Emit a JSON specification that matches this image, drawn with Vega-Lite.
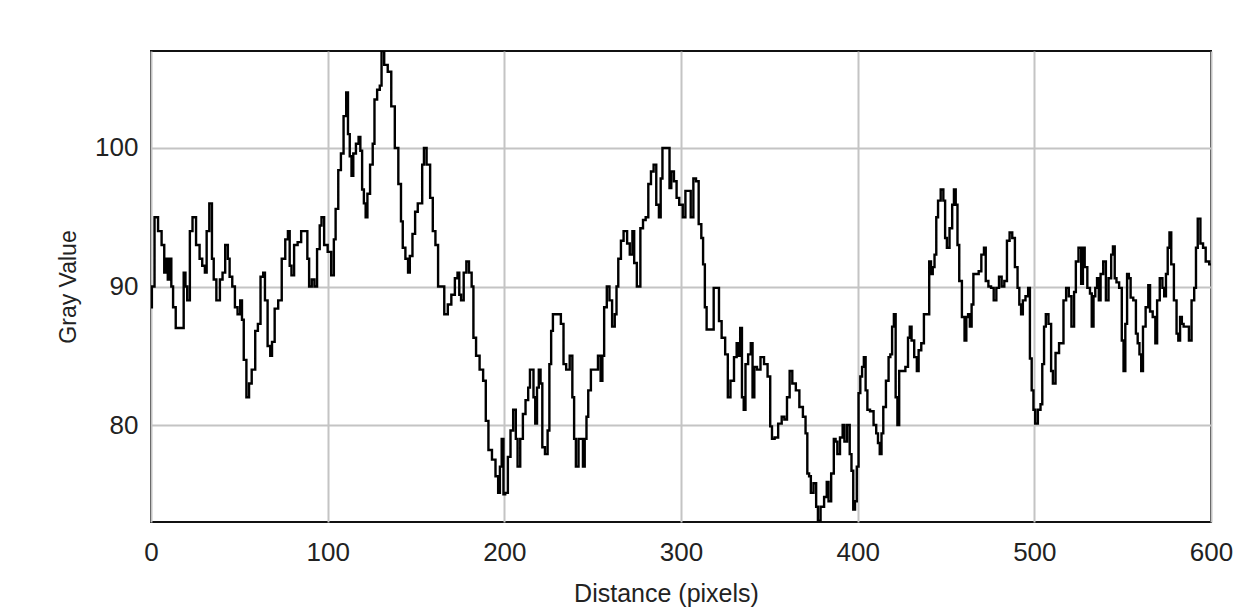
{
  "$schema": "https://vega.github.io/schema/vega-lite/v6.json",
  "autosize": {"type": "none"},
  "width": 1060,
  "height": 471,
  "padding": {"left": 151, "top": 51, "right": 45, "bottom": 88},
  "background": "white",
  "config": {
    "view": {"stroke": "#111111", "strokeWidth": 2},
    "font": "Liberation Sans"
  },
  "data": {"values": [
    {"d":0,"v":88.5},{"d":1,"v":90},{"d":3,"v":95},{"d":5,"v":94},{"d":7,"v":93},{"d":8,"v":91},{"d":9,"v":92},{"d":10,"v":90.5},{"d":11,"v":92},{"d":12,"v":90},{"d":13,"v":88.5},{"d":15,"v":87},{"d":18,"v":87},{"d":19,"v":91},{"d":20,"v":90},{"d":21,"v":89},{"d":23,"v":94},{"d":24,"v":95},{"d":27,"v":93},{"d":28,"v":92},{"d":30,"v":91.5},{"d":31,"v":91},{"d":32,"v":94},{"d":34,"v":96},{"d":35,"v":92},{"d":36,"v":90.5},{"d":38,"v":89},{"d":40,"v":90.5},{"d":41,"v":91},{"d":43,"v":93},{"d":44,"v":92},{"d":45,"v":90.7},{"d":47,"v":90},{"d":48,"v":88.5},{"d":50,"v":88},{"d":51,"v":89},{"d":52,"v":87.6},{"d":53,"v":84.7},{"d":55,"v":82},{"d":56,"v":83},{"d":58,"v":84},{"d":60,"v":86.8},{"d":61,"v":87.3},{"d":63,"v":90.7},{"d":64,"v":91},{"d":65,"v":89},{"d":67,"v":85.7},{"d":68,"v":85},
    {"d":69,"v":86},{"d":71,"v":88.4},{"d":73,"v":89},{"d":75,"v":92},{"d":77,"v":93.4},{"d":78,"v":94},{"d":79,"v":91.5},{"d":80,"v":90.8},{"d":82,"v":93},{"d":84,"v":93.2},{"d":86,"v":94},{"d":88,"v":94},{"d":89,"v":92},{"d":90,"v":90},{"d":92,"v":90.5},{"d":93,"v":90},{"d":95,"v":92.7},{"d":96,"v":94.4},{"d":97,"v":95},{"d":99,"v":93},{"d":101,"v":92.5},{"d":103,"v":90.8},{"d":104,"v":93.4},{"d":105,"v":95.6},{"d":107,"v":98.4},{"d":108,"v":99.6},{"d":110,"v":102.3},{"d":111,"v":104},{"d":112,"v":101},{"d":113,"v":99.4},{"d":114,"v":98},{"d":115,"v":99.6},{"d":117,"v":100.3},{"d":118,"v":100.8},{"d":119,"v":99.8},{"d":120,"v":97},{"d":121,"v":96},{"d":122,"v":95},{"d":123,"v":96.7},{"d":125,"v":98.8},{"d":126,"v":100.3},{"d":127,"v":103.5},{"d":129,"v":104.2},{"d":130,"v":104.5},{"d":131,"v":107},{"d":133,"v":106},{"d":135,"v":105.5},
    {"d":137,"v":103},{"d":139,"v":100},{"d":141,"v":97.4},{"d":142,"v":94.7},{"d":143,"v":92.8},{"d":145,"v":92},{"d":146,"v":91},{"d":147,"v":92.2},{"d":149,"v":93.8},{"d":150,"v":95.4},{"d":152,"v":96},{"d":153,"v":96},{"d":154,"v":98.8},{"d":155,"v":100},{"d":157,"v":98.8},{"d":159,"v":96.4},{"d":160,"v":94},{"d":162,"v":93},{"d":163,"v":90},{"d":165,"v":90},{"d":167,"v":88},{"d":169,"v":88.7},{"d":171,"v":89.4},{"d":173,"v":90.6},{"d":174,"v":91},{"d":175,"v":89.4},{"d":176,"v":89},{"d":178,"v":91},{"d":179,"v":91.8},{"d":181,"v":91},{"d":182,"v":90},{"d":183,"v":86.3},{"d":185,"v":85},{"d":187,"v":84},{"d":189,"v":83.2},{"d":190,"v":80.3},{"d":192,"v":78.2},{"d":194,"v":77.5},{"d":196,"v":76.3},{"d":197,"v":75.1},{"d":198,"v":77},{"d":199,"v":79},{"d":200,"v":75},
    {"d":201,"v":75.1},{"d":203,"v":77.7},{"d":204,"v":79.6},{"d":206,"v":81.1},{"d":207,"v":79},{"d":208,"v":77},{"d":210,"v":79},{"d":211,"v":80.8},{"d":213,"v":81.8},{"d":214,"v":82.7},{"d":215,"v":84},{"d":216,"v":84},{"d":217,"v":82},{"d":218,"v":80.1},{"d":219,"v":82.7},{"d":220,"v":84},{"d":221,"v":83},{"d":222,"v":78.4},{"d":224,"v":77.9},{"d":225,"v":79.6},{"d":226,"v":84.4},{"d":227,"v":86.8},{"d":228,"v":88},{"d":231,"v":88},{"d":233,"v":87.3},{"d":234,"v":84.4},{"d":236,"v":84},{"d":238,"v":85},{"d":239,"v":82},{"d":240,"v":79},{"d":241,"v":77},{"d":243,"v":79},{"d":244,"v":79},{"d":245,"v":77},{"d":246,"v":79},{"d":247,"v":80.6},{"d":248,"v":82.5},{"d":250,"v":84},{"d":252,"v":84},{"d":254,"v":85},{"d":255,"v":83.2},{"d":256,"v":85},{"d":257,"v":88.5},{"d":259,"v":90},{"d":260,"v":89},{"d":262,"v":87.1},{"d":263,"v":88},{"d":264,"v":90},{"d":265,"v":92},{"d":267,"v":93.3},{"d":268,"v":94},
    {"d":269,"v":94},{"d":270,"v":93.1},{"d":272,"v":92.3},{"d":273,"v":94},{"d":274,"v":91.7},{"d":276,"v":90},{"d":278,"v":94.2},{"d":279,"v":94.8},{"d":281,"v":95},{"d":282,"v":97.4},{"d":284,"v":98.3},{"d":285,"v":98.8},{"d":287,"v":95.9},{"d":288,"v":95},{"d":289,"v":97.8},{"d":290,"v":100},{"d":293,"v":100},{"d":294,"v":97.1},{"d":295,"v":98.3},{"d":297,"v":97.6},{"d":298,"v":96.4},{"d":300,"v":95.9},{"d":302,"v":95},{"d":303,"v":96.9},{"d":305,"v":96.9},{"d":306,"v":95},{"d":308,"v":97.8},{"d":309,"v":97.6},{"d":311,"v":94.5},{"d":312,"v":93.5},{"d":313,"v":91.6},{"d":314,"v":88.5},{"d":315,"v":86.9},{"d":318,"v":86.9},{"d":319,"v":89.9},{"d":321,"v":89.9},{"d":322,"v":87.5},{"d":324,"v":86.3},{"d":326,"v":85.1},{"d":327,"v":82},{"d":329,"v":83.2},{"d":331,"v":84.9},{"d":332,"v":85.9},{"d":333,"v":85},{"d":334,"v":87},{"d":335,"v":82},{"d":336,"v":81.1},
    {"d":337,"v":84.4},{"d":339,"v":85.1},{"d":340,"v":85.9},{"d":341,"v":82},{"d":342,"v":84.2},{"d":344,"v":84},{"d":346,"v":84.9},{"d":348,"v":84.4},{"d":350,"v":83.5},{"d":351,"v":79.9},{"d":352,"v":79},{"d":354,"v":79.1},{"d":356,"v":80.1},{"d":358,"v":80.6},{"d":359,"v":80.4},{"d":361,"v":82},{"d":362,"v":83.9},{"d":364,"v":83},{"d":366,"v":82.5},{"d":368,"v":81.3},{"d":370,"v":80.6},{"d":371,"v":79.4},{"d":372,"v":76.5},{"d":373,"v":76.3},{"d":374,"v":75.1},{"d":376,"v":75.8},{"d":377,"v":74.1},{"d":378,"v":73.1},{"d":380,"v":74.1},{"d":382,"v":74.8},{"d":383,"v":75.9},{"d":384,"v":74.5},{"d":386,"v":76.5},{"d":387,"v":79},{"d":388,"v":78.8},{"d":389,"v":77.9},{"d":391,"v":79.1},{"d":392,"v":80},{"d":393,"v":78.8},{"d":395,"v":80},{"d":396,"v":77.9},{"d":397,"v":76.7},{"d":398,"v":73.9},{"d":399,"v":74.5},{"d":400,"v":77},
    {"d":401,"v":82.3},{"d":402,"v":83.5},{"d":403,"v":84.2},{"d":404,"v":84.9},{"d":405,"v":82.5},{"d":406,"v":81.1},{"d":408,"v":81},{"d":410,"v":80},{"d":411,"v":79.4},{"d":412,"v":78.7},{"d":413,"v":77.9},{"d":414,"v":79.4},{"d":415,"v":81.3},{"d":417,"v":83.2},{"d":418,"v":84.9},{"d":419,"v":85.1},{"d":420,"v":87.1},{"d":421,"v":88},{"d":422,"v":82},{"d":423,"v":80},{"d":424,"v":83.9},{"d":426,"v":83.9},{"d":428,"v":84.2},{"d":429,"v":86.3},{"d":430,"v":87.1},{"d":431,"v":86.1},{"d":433,"v":84.9},{"d":434,"v":83.9},{"d":435,"v":85.4},{"d":437,"v":85.9},{"d":438,"v":88},{"d":440,"v":88},{"d":441,"v":91.8},{"d":442,"v":90.9},{"d":443,"v":91.4},{"d":444,"v":92.3},{"d":445,"v":95},{"d":446,"v":96.2},{"d":448,"v":97},{"d":449,"v":96.2},{"d":450,"v":93.5},{"d":451,"v":92.8},{"d":453,"v":94.2},{"d":454,"v":95.9},{"d":455,"v":97},{"d":456,"v":95.9},{"d":457,"v":93},{"d":458,"v":90.4},{"d":460,"v":87.8},{"d":461,"v":86.1},{"d":462,"v":87.8},{"d":463,"v":88},{"d":464,"v":87.1},{"d":465,"v":88.7},{"d":466,"v":90.9},{"d":468,"v":90.9},
    {"d":469,"v":91.1},{"d":471,"v":92.3},{"d":472,"v":92.8},{"d":473,"v":90.4},{"d":475,"v":90},{"d":476,"v":89.9},{"d":478,"v":89},{"d":479,"v":89.9},{"d":481,"v":90.7},{"d":482,"v":90},{"d":484,"v":90.4},{"d":485,"v":93.3},{"d":487,"v":93.9},{"d":488,"v":93.5},{"d":490,"v":91.4},{"d":491,"v":89.9},{"d":492,"v":88.7},{"d":493,"v":88},{"d":494,"v":89},{"d":496,"v":89.3},{"d":497,"v":89.9},{"d":498,"v":84.8},{"d":499,"v":82.5},{"d":500,"v":81.1},{"d":501,"v":80.1},{"d":503,"v":81.1},{"d":504,"v":81.5},{"d":505,"v":84.4},{"d":506,"v":87.1},{"d":507,"v":88},{"d":509,"v":87.3},{"d":510,"v":83.9},{"d":511,"v":83},{"d":513,"v":85.2},{"d":515,"v":85.9},{"d":516,"v":85.9},{"d":517,"v":89},{"d":519,"v":89.9},{"d":520,"v":89.3},{"d":522,"v":87.1},{"d":523,"v":89.6},{"d":524,"v":91.8},{"d":526,"v":92.8},{"d":527,"v":90.2},{"d":528,"v":92.8},{"d":529,"v":91.4},{"d":531,"v":89.9},{"d":532,"v":89.5},{"d":533,"v":87.1},{"d":534,"v":89.3},{"d":535,"v":89.9},{"d":536,"v":90.6},
    {"d":537,"v":89},{"d":538,"v":90.9},{"d":540,"v":91.8},{"d":541,"v":89},{"d":543,"v":90.6},{"d":544,"v":92.3},{"d":545,"v":92.9},{"d":546,"v":90.6},{"d":547,"v":90.3},{"d":549,"v":89.9},{"d":550,"v":86.1},{"d":551,"v":83.9},{"d":552,"v":87.3},{"d":553,"v":90.9},{"d":554,"v":90.6},{"d":555,"v":89.2},{"d":557,"v":89},{"d":558,"v":86.6},{"d":559,"v":85.9},{"d":560,"v":85.1},{"d":561,"v":83.9},{"d":562,"v":87.1},{"d":564,"v":88.5},{"d":565,"v":90.1},{"d":566,"v":88.2},{"d":568,"v":87.8},{"d":569,"v":85.9},{"d":570,"v":89},{"d":572,"v":90.6},{"d":573,"v":89.9},{"d":574,"v":89.3},{"d":575,"v":90.9},{"d":576,"v":92.8},{"d":577,"v":93.9},{"d":578,"v":91.6},{"d":580,"v":89},{"d":581,"v":86.6},{"d":582,"v":86.1},{"d":583,"v":87.8},{"d":584,"v":87.3},{"d":585,"v":87.1},{"d":587,"v":87.1},{"d":588,"v":86.1},{"d":590,"v":89},{"d":591,"v":89.9},{"d":592,"v":92.8},{"d":593,"v":94.9},{"d":595,"v":93.1},{"d":596,"v":92.8},{"d":598,"v":91.8},{"d":600,"v":91.6}
  ]},
  "mark": {"type": "line", "color": "#000000", "strokeWidth": 2.4, "interpolate": "step", "clip": true},
  "encoding": {
    "x": {
      "field": "d", "type": "quantitative",
      "scale": {"domain": [0, 600], "nice": false, "zero": false},
      "axis": {
        "title": "Distance (pixels)",
        "values": [0, 100, 200, 300, 400, 500, 600],
        "format": "d",
        "domain": false, "ticks": false, "tickSize": 0,
        "grid": true, "gridColor": "#c4c4c4", "gridWidth": 2, "gridOpacity": 1,
        "labelFontSize": 26, "labelColor": "#222222", "labelPadding": 17, "labelFlush": false,
        "titleFontSize": 25, "titleFontWeight": "normal", "titleColor": "#222222", "titlePadding": 16,
        "titleX": 515
      }
    },
    "y": {
      "field": "v", "type": "quantitative",
      "scale": {"domain": [73, 107], "nice": false, "zero": false},
      "axis": {
        "title": "Gray Value",
        "values": [80, 90, 100],
        "format": "d",
        "domain": false, "ticks": false, "tickSize": 0,
        "grid": true, "gridColor": "#c4c4c4", "gridWidth": 2, "gridOpacity": 1,
        "labelFontSize": 26, "labelColor": "#222222", "labelPadding": 13,
        "titleFontSize": 23, "titleFontWeight": "normal", "titleColor": "#222222", "titlePadding": 14
      }
    }
  }
}
